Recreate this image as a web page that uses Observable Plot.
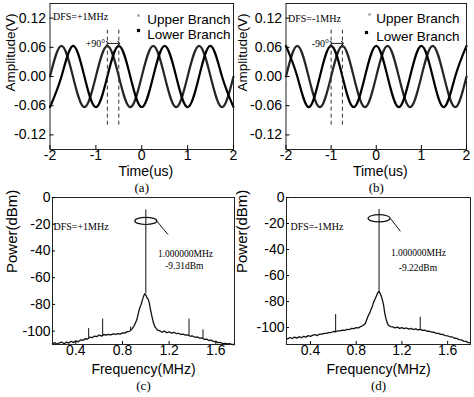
<!DOCTYPE html>
<html><head><meta charset="utf-8">
<script src="https://cdn.jsdelivr.net/npm/d3@7"></script>
<script src="https://cdn.jsdelivr.net/npm/@observablehq/plot@0.6"></script>
<style>
body{margin:0;background:#fff;}
#wrap{position:relative;width:474px;height:397px;overflow:hidden;background:#fff;}
.panel{position:absolute;}
.panel svg{overflow:visible;background:transparent !important;}
</style></head><body><div id="wrap"></div>
<script>
// ---------- data: time-domain panels (a), (b) ----------
const timeUs = [-2,-1.75,-1.5,-1.25,-1,-0.75,-0.5,-0.25,0,0.25,0.5,0.75,1,1.25,1.5,1.75,2];
const upperBranch = [0,0.063,0,-0.063,0,0.063,0,-0.063,0,0.063,0,-0.063,0,0.063,0,-0.063,0];
const lowerBranchA = [-0.063,0,0.063,0,-0.063,0,0.063,0,-0.063,0,0.063,0,-0.063,0,0.063,0,-0.063];
const lowerBranchB = [0.063,0,-0.063,0,0.063,0,-0.063,0,0.063,0,-0.063,0,0.063,0,-0.063,0,0.063];
const timeTicks = [-2,-1,0,1,2];
const ampTicks = [0.12,0.06,0,-0.06,-0.12];
const phaseLinesA = [-0.75,-0.5];
const phaseLinesB = [-1.0,-0.75];
const phaseSpan = [-0.1,0.1];
const arrowLevel = 0.068;
const phaseLabels = ["+90°","-90°"];
const dfsLabels = ["DFS=+1MHz","DFS=-1MHz"];
const legendLabels = ["Upper Branch","Lower Branch"];
const captions = ["(a)","(b)","(c)","(d)"];

// ---------- data: spectra (c), (d) ----------
const freqC = [0.20,0.22,0.24,0.26,0.28,0.30,0.32,0.34,0.36,0.38,0.40,0.42,0.44,0.46,0.48,0.50,0.52,0.54,0.56,0.58,0.60,0.62,0.64,0.66,0.68,0.70,0.72,0.74,0.76,0.78,0.80,0.82,0.84,0.86,0.88,0.90,0.92,0.93,0.94,0.95,0.96,0.97,0.98,0.99,1.00,1.01,1.02,1.03,1.04,1.05,1.06,1.07,1.08,1.10,1.12,1.14,1.16,1.18,1.20,1.22,1.24,1.26,1.28,1.30,1.32,1.34,1.36,1.38,1.40,1.42,1.44,1.46,1.48,1.50,1.52,1.54,1.56,1.58,1.60,1.62,1.64,1.66,1.68,1.70,1.72,1.74,1.76];
const powerC = [-109.5,-108.6,-109.8,-108.7,-108.3,-109.4,-108.2,-108.9,-107.6,-108.6,-107.3,-108,-106.6,-106.9,-105.7,-105.9,-104.5,-104.9,-103.7,-104.1,-102.9,-103.7,-102.6,-102.9,-102.4,-102.8,-102.1,-102.5,-101.9,-102.2,-101.3,-101.5,-100.4,-100.2,-98.5,-96,-92,-89,-85,-82,-80,-77,-74,-72,-73,-75,-76,-79,-84,-88,-92,-95,-97,-99.2,-99.8,-100.8,-100,-101.2,-100.5,-101.5,-100.9,-101.8,-101.6,-102.5,-102.3,-103,-102.9,-103.8,-103.6,-104.6,-104.3,-105.3,-105.1,-106.1,-105.9,-107,-106.7,-107.8,-107.7,-108.6,-108.5,-109.3,-109.1,-109.6,-109.4,-110,-110];
const spurFreqC = [0.51,0.63,0.87,1.37,1.49];
const spurBaseC = [-105.3,-103.3,-99.8,-103.4,-105.7];
const spurTopC = [-98,-91,-97,-91,-99];
const freqD = [0.19,0.20,0.22,0.24,0.26,0.28,0.30,0.32,0.34,0.36,0.38,0.40,0.42,0.44,0.46,0.48,0.50,0.52,0.54,0.56,0.58,0.60,0.62,0.64,0.66,0.68,0.70,0.72,0.74,0.76,0.78,0.80,0.82,0.84,0.86,0.88,0.90,0.91,0.92,0.93,0.94,0.95,0.96,0.97,0.98,0.99,1.00,1.01,1.02,1.03,1.04,1.05,1.06,1.07,1.08,1.10,1.12,1.14,1.16,1.18,1.20,1.22,1.24,1.26,1.28,1.30,1.32,1.34,1.36,1.38,1.40,1.42,1.44,1.46,1.48,1.50,1.52,1.54,1.56,1.58,1.60,1.62,1.64,1.66,1.68,1.70,1.72,1.74,1.76,1.78,1.80];
const powerD = [-108.2,-108.7,-107.6,-108.4,-107.3,-108.1,-107,-107.8,-106.7,-107.3,-106.2,-106.8,-105.8,-105.4,-106.1,-105,-105.1,-104.4,-104.4,-103.8,-103.8,-103,-103.2,-102.5,-102.6,-101.9,-102.1,-101.3,-101.5,-100.6,-100.8,-100,-100.2,-99.2,-98.4,-96.8,-92,-90,-88.5,-86,-84,-81,-79,-77,-75,-73,-72,-74,-76,-79,-83,-89,-93,-96,-98,-99.2,-99.4,-100.2,-99.6,-100.6,-100,-100.8,-100.3,-101.2,-100.6,-101.5,-101,-101.8,-101.3,-102.2,-102,-102.8,-102.8,-103.5,-103.6,-104.4,-104.4,-105.2,-105.3,-106.2,-106.3,-107.2,-107.2,-108.2,-108.3,-109.2,-109.4,-110.4,-110.6,-111.5,-111.6];
const spurFreqD = [0.62,1.36];
const spurBaseD = [-103.1,-101.5];
const spurTopD = [-90,-92];
const carrierFreq = 1.0;
const carrierBase = -72;
const carrierTopC = -9.31;
const carrierTopD = -9.22;
const freqTicks = [0.4,0.8,1.2,1.6];
const powerTicks = [0,-20,-40,-60,-80,-100];
const markerLabelsC = ["1.000000MHz","-9.31dBm"];
const markerLabelsD = ["1.000000MHz","-9.22dBm"];
const markerTextFreqC = [1.34,1.33];
const markerTextPowC = [-41.9,-50.9];
const markerTextFreqD = [1.345,1.34];
const markerTextPowD = [-42.3,-53.8];
const ellipseCenterPow = [-17.5,-16];
const leaderC = {x1:1.09,y1:-17.2,x2:1.19,y2:-27.7};
const leaderD = {x1:1.10,y1:-16.2,x2:1.187,y2:-26};

// ---------- styling ----------
const SANS = "'Liberation Sans', Arial, Helvetica, sans-serif";
const SERIF = "'Liberation Serif', 'Times New Roman', serif";
const wrap = document.getElementById("wrap");
function place(el, left, top){
  const d = document.createElement("div");
  d.className = "panel"; d.style.left = left+"px"; d.style.top = top+"px";
  d.appendChild(el); wrap.appendChild(d);
}
const baseStyle = {fontFamily: SANS, fontSize: "14px", background: "transparent", overflow: "visible", color: "black"};

function timePanel(lower, phaseLines, phaseLabel, dfs, caption, m){
  const up = timeUs.map((t,i)=>({t, v: upperBranch[i]}));
  const lo = timeUs.map((t,i)=>({t, v: lower[i]}));
  return Plot.plot({
    width: 237, height: 197,
    marginLeft: m.left, marginRight: m.right, marginTop: 3, marginBottom: 48,
    x: {domain: [-2,2]}, y: {domain: [-0.15,0.15]},
    style: baseStyle,
    marks: [
      Plot.line(up, {x:"t", y:"v", curve:"natural", stroke:"#262626", strokeWidth:2.2}),
      Plot.line(lo, {x:"t", y:"v", curve:"natural", stroke:"#000", strokeWidth:2.2}),
      Plot.ruleX(phaseLines, {y1: phaseSpan[0], y2: phaseSpan[1], stroke:"#333", strokeDasharray:"4,3", strokeWidth:1}),
      Plot.link([phaseLines], {x1: d=>d[0], x2: d=>d[1], y1: arrowLevel, y2: arrowLevel, stroke:"#222", strokeWidth:1, markerStart:"arrow", markerEnd:"arrow"}),
      Plot.text([phaseLines[0]], {x: d=>d, y: arrowLevel, text: ()=>phaseLabel, textAnchor:"end", dx:-2, fontFamily: SERIF, fontSize: 10}),
      Plot.frame({stroke:"#222"}),
      Plot.axisX(timeTicks, {tickSize:-4, tickPadding:5, tickFormat: d=>String(d), label:null, fontSize:14}),
      Plot.axisY(ampTicks, {tickSize:-4, tickPadding:8, tickFormat: d=>d.toFixed(2), label:null, fontSize:14}),
      Plot.text([dfs], {frameAnchor:"top-left", dx: m.dfsDx, dy: m.dfsDy, text: d=>d, textAnchor:"start", fontFamily: SERIF, fontSize: 10}),
      Plot.text([legendLabels[0]], {frameAnchor:"top-right", dx: m.legDx, dy: m.legDy[0], text: d=>d, textAnchor:"end", fontSize: 13.5}),
      Plot.text([legendLabels[1]], {frameAnchor:"top-right", dx: m.legDx, dy: m.legDy[1], text: d=>d, textAnchor:"end", fontSize: 13.5}),
      Plot.dot([0], {frameAnchor:"top-right", dx: m.mkDx[0], dy: m.legDy[0]+1, r:1.3, fill:"#999", symbol:"square"}),
      Plot.dot([0], {frameAnchor:"top-right", dx: m.mkDx[1], dy: m.legDy[1]+1, r:1.8, fill:"#000", symbol:"square"}),
      Plot.text(["Amplitude(V)"], {frameAnchor:"left", rotate:-90, dx: m.ylabDx, dy: 15, text: d=>d, fontSize: 13.5}),
      Plot.text(["Time(us)"], {frameAnchor:"bottom", dy: 26, dx: 4, text: d=>d, fontSize: 14}),
      Plot.text([caption], {frameAnchor:"bottom", dy: 42, text: d=>d, fontFamily: SERIF, fontSize: 13})
    ]
  });
}

const ellipseSymbol = {draw(ctx){ const rx=11, ry=3.6, k=0.5523;
  ctx.moveTo(rx,0);
  ctx.bezierCurveTo(rx, ry*k, rx*k, ry, 0, ry);
  ctx.bezierCurveTo(-rx*k, ry, -rx, ry*k, -rx, 0);
  ctx.bezierCurveTo(-rx, -ry*k, -rx*k, -ry, 0, -ry);
  ctx.bezierCurveTo(rx*k, -ry, rx, -ry*k, rx, 0);
  ctx.closePath(); }};

function specPanel(freq, power, spF, spB, spT, carrierTop, xDomain, yDomain, labels, tf, tp, elPow, leader, dfs, caption, m){
  const trace = freq.map((f,i)=>({f, p: power[i]}));
  const spurs = spF.map((f,i)=>({f, b: spB[i], t: spT[i]}));
  const notes = labels.map((s,i)=>({s, f: tf[i], p: tp[i]}));
  return Plot.plot({
    width: 237, height: 212,
    marginLeft: m.left, marginRight: m.right, marginTop: 12, marginBottom: 53,
    x: {domain: xDomain}, y: {domain: yDomain},
    style: baseStyle,
    marks: [
      Plot.line(trace, {x:"f", y:"p", stroke:"#111", strokeWidth:1.3}),
      Plot.ruleX(spurs, {x:"f", y1:"b", y2:"t", stroke:"#111", strokeWidth:1}),
      Plot.ruleX([carrierFreq], {y1: carrierBase, y2: carrierTop, stroke:"#111", strokeWidth:1}),
      Plot.dot([carrierFreq], {x: d=>d, y: elPow, symbol: ellipseSymbol, fill:"none", stroke:"#111", strokeWidth:1.2}),
      Plot.link([leader], {x1:"x1", y1:"y1", x2:"x2", y2:"y2", stroke:"#111", strokeWidth:1}),
      Plot.text(notes, {x:"f", y:"p", text:"s", fontFamily: SERIF, fontSize: 9.5}),
      Plot.frame({stroke:"#222"}),
      Plot.axisX(freqTicks, {tickSize:-3, tickPadding:4, tickFormat: d=>d.toFixed(1), label:null, fontSize:14}),
      Plot.axisY(powerTicks, {tickSize:-3, tickPadding:5, tickFormat: d=>String(d), label:null, fontSize:14}),
      Plot.text([dfs], {frameAnchor:"top-left", dx: m.dfsDx, dy: 25, text: d=>d, textAnchor:"start", fontFamily: SERIF, fontSize: 10}),
      Plot.text(["Power(dBm)"], {frameAnchor:"left", rotate:-90, dx: m.ylabDx, dy: 2, text: d=>d, fontSize: 15}),
      Plot.text(["Frequency(MHz)"], {frameAnchor:"bottom", dy: 29, text: d=>d, fontSize: 14}),
      Plot.text([caption], {frameAnchor:"bottom", dy: 45, text: d=>d, fontFamily: SERIF, fontSize: 13})
    ]
  });
}

place(timePanel(lowerBranchA, phaseLinesA, phaseLabels[0], dfsLabels[0], captions[0],
  {left:49.5, right:4, dfsDx:3, dfsDy:9, legDx:-3, legDy:[11,26], mkDx:[-95,-95], ylabDx:-39.5}), 0, 0);
place(timePanel(lowerBranchB, phaseLinesB, phaseLabels[1], dfsLabels[1], captions[1],
  {left:48.5, right:8, dfsDx:2, dfsDy:11, legDx:-7, legDy:[10,28], mkDx:[-97,-100], ylabDx:-43.5}), 237, 0);
place(specPanel(freqC, powerC, spurFreqC, spurBaseC, spurTopC, carrierTopC, [0.2,1.76], [-110,0],
  markerLabelsC, markerTextFreqC, markerTextPowC, ellipseCenterPow[0], leaderC, dfsLabels[0], captions[2],
  {left:52, right:3, dfsDx:1, ylabDx:-40}), 0, 185);
place(specPanel(freqD, powerD, spurFreqD, spurBaseD, spurTopD, carrierTopD, [0.19,1.8], [-113,0],
  markerLabelsD, markerTextFreqD, markerTextPowD, ellipseCenterPow[1], leaderD, dfsLabels[1], captions[3],
  {left:49, right:4, dfsDx:4, ylabDx:-44}), 237, 185);
</script></body></html>
